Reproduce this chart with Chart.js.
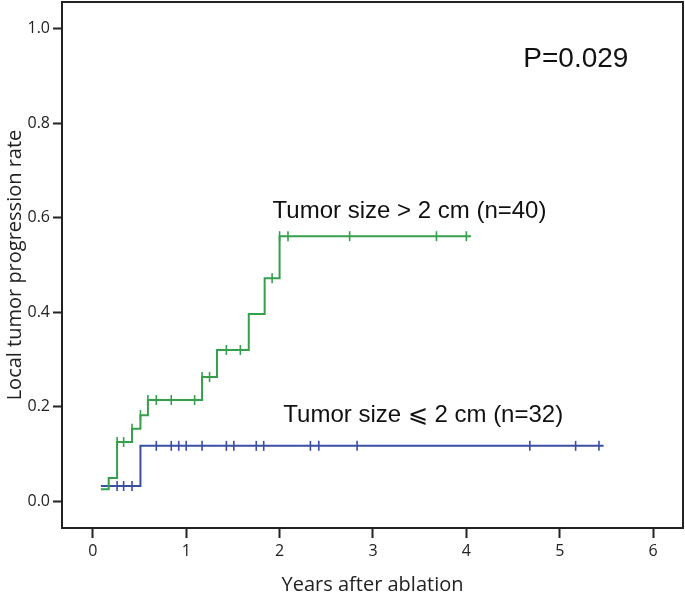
<!DOCTYPE html>
<html>
<head>
<meta charset="utf-8">
<script src="https://cdn.jsdelivr.net/npm/chart.js@4/dist/chart.umd.min.js"></script>
<style>
  html, body { margin: 0; padding: 0; background: #fff; }
  canvas { display: block; }
</style>
</head>
<body>
<canvas id="grafico" width="685" height="597"></canvas>
<script>
// Dados do gráfico
const xTicks = [0, 1, 2, 3, 4, 5, 6];
const yTicks = [0, 0.2, 0.4, 0.6, 0.8, 1.0];

// Tumor > 2 cm: tempos dos degraus e taxa acumulada
const grandeTempos = [0.086, 0.17, 0.26, 0.42, 0.51, 0.59, 1.17, 1.33, 1.67, 1.84, 2.0, 4.05];
const grandeTaxa   = [0.025, 0.049, 0.125, 0.153, 0.182, 0.214, 0.263, 0.32, 0.396, 0.472, 0.561, 0.561];
const grandeCensura = [0.26, 0.33, 0.42, 0.51, 0.59, 0.68, 0.84, 1.09, 1.17, 1.25, 1.43, 1.58, 1.92, 2.0, 2.09, 2.75, 3.68, 4.0];

// Tumor <= 2 cm
const pequenoTempos = [0.086, 0.51, 5.47];
const pequenoTaxa   = [0.032, 0.117, 0.117];
const pequenoCensura = [0.26, 0.33, 0.42, 0.68, 0.84, 0.92, 1.0, 1.17, 1.43, 1.51, 1.75, 1.83, 2.33, 2.42, 2.83, 4.68, 5.17, 5.42];

const corVerde = '#34a04c';
const corAzul = '#3a4ea2';
const corEixo = '#222';

// Funções auxiliares
function pontos(tempos, taxas) {
    return tempos.map((t, i) => ({ x: t, y: taxas[i] }));
}

function taxaEm(tempos, taxas, t) {
    let v = taxas[0];
    tempos.forEach((tt, i) => {
        if (tt <= t + 1e-9) v = taxas[i];
    });
    return v;
}

function censuras(lista, tempos, taxas) {
    return lista.map(t => ({ x: t, y: taxaEm(tempos, taxas, t) }));
}

function serieLinha(dados, cor) {
    return {
        data: dados,
        borderColor: cor,
        borderWidth: 2,
        pointRadius: 0,
        stepped: 'before',
        fill: false
    };
}

function serieCensura(dados, cor) {
    return {
        data: dados,
        showLine: false,
        borderColor: cor,
        backgroundColor: cor,
        borderWidth: 1.6,
        pointStyle: 'line',
        rotation: 90,
        pointRadius: 5
    };
}

// Textos sobre o gráfico (em coordenadas dos eixos)
const textos = [
    { texto: 'P=0.029', x: 4.61, y: 0.919, tamanho: 28 },
    { texto: 'Tumor size > 2 cm (n=40)', x: 1.925, y: 0.600, tamanho: 24 },
    { texto: 'Tumor size \u2A7D 2 cm (n=32)', x: 2.04, y: 0.167, tamanho: 24 }
];

const pluginMoldura = {
    id: 'moldura',
    afterDatasetsDraw(chart) {
        const { ctx, chartArea: a, scales } = chart;
        ctx.save();
        ctx.strokeStyle = corEixo;
        ctx.lineWidth = 2;
        ctx.strokeRect(a.left, a.top, a.right - a.left, a.bottom - a.top);
        ctx.fillStyle = '#111';
        ctx.textBaseline = 'alphabetic';
        ctx.textAlign = 'left';
        textos.forEach(t => {
            ctx.font = t.tamanho + 'px "Liberation Sans", Arial, sans-serif';
            ctx.fillText(t.texto, scales.x.getPixelForValue(t.x), scales.y.getPixelForValue(t.y));
        });
        ctx.restore();
    }
};

const ctx = document.getElementById('grafico').getContext('2d');

new Chart(ctx, {
    type: 'line',
    data: {
        datasets: [
            serieLinha(pontos(grandeTempos, grandeTaxa), corVerde),
            serieCensura(censuras(grandeCensura, grandeTempos, grandeTaxa), corVerde),
            serieLinha(pontos(pequenoTempos, pequenoTaxa), corAzul),
            serieCensura(censuras(pequenoCensura, pequenoTempos, pequenoTaxa), corAzul)
        ]
    },
    options: {
        responsive: false,
        animation: false,
        layout: { autoPadding: false, padding: { top: 2, right: 2, left: 0, bottom: 0 } },
        plugins: {
            legend: { display: false },
            tooltip: { enabled: false }
        },
        scales: {
            x: {
                type: 'linear',
                min: -0.33,
                max: 6.32,
                afterBuildTicks: s => { s.ticks = xTicks.map(v => ({ value: v })); },
                afterFit: s => {
                    s.height = 69;
                    s.paddingLeft = 0;
                    s.paddingRight = 0;
                },
                grid: {
                    drawOnChartArea: false,
                    tickLength: 10,
                    tickWidth: 2,
                    tickColor: corEixo
                },
                border: { color: corEixo, width: 2 },
                ticks: {
                    color: corEixo,
                    padding: 4,
                    maxRotation: 0,
                    font: { family: '"Open Sans", sans-serif', size: 16 }
                },
                title: {
                    display: true,
                    text: 'Years after ablation',
                    color: corEixo,
                    padding: { top: 0, bottom: 0 },
                    font: { family: '"Open Sans", sans-serif', size: 20 }
                }
            },
            y: {
                min: -0.057,
                max: 1.057,
                afterBuildTicks: s => { s.ticks = yTicks.map(v => ({ value: v })); },
                afterFit: s => {
                    s.width = 62;
                    s.paddingTop = 0;
                    s.paddingBottom = 0;
                },
                grid: {
                    drawOnChartArea: false,
                    tickLength: 9,
                    tickWidth: 2,
                    tickColor: corEixo
                },
                border: { color: corEixo, width: 2 },
                ticks: {
                    color: corEixo,
                    padding: 3,
                    callback: v => v.toFixed(1),
                    font: { family: '"Open Sans", sans-serif', size: 16 }
                },
                title: {
                    display: true,
                    text: 'Local tumor progression rate',
                    color: corEixo,
                    padding: { top: 3, bottom: 0 },
                    font: { family: '"Open Sans", sans-serif', size: 20 }
                }
            }
        }
    },
    plugins: [pluginMoldura]
});
</script>
</body>
</html>
